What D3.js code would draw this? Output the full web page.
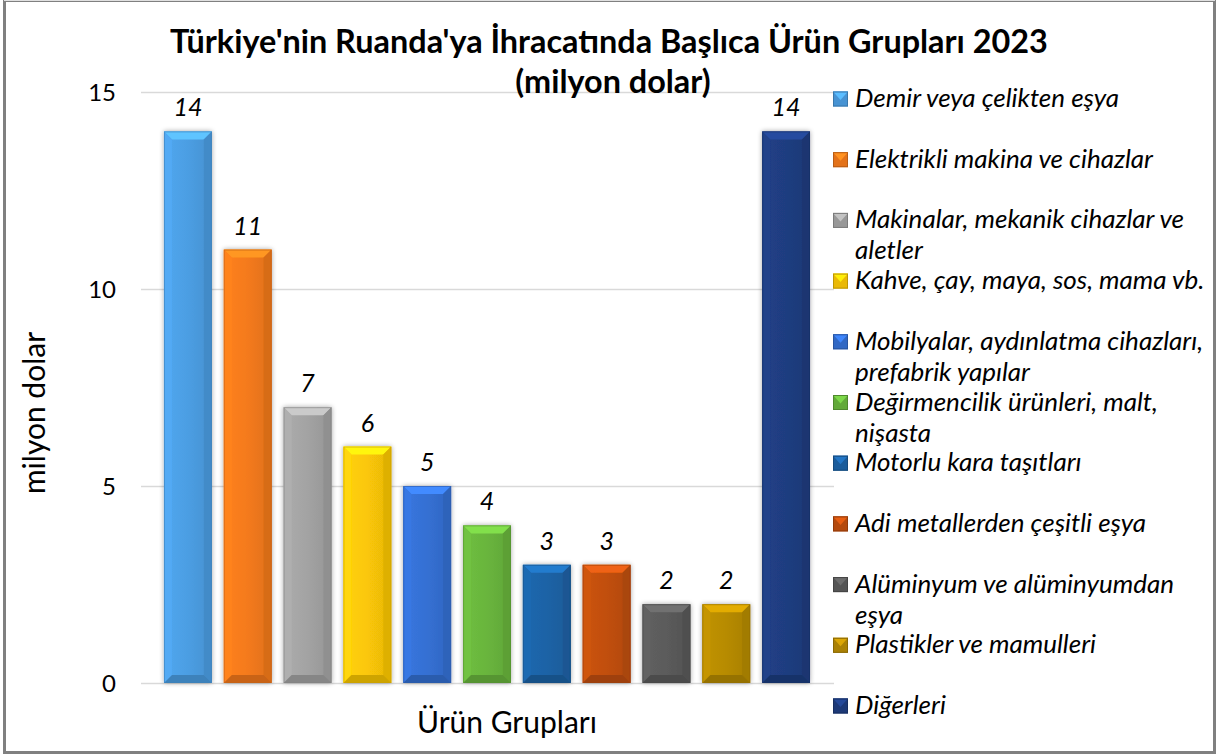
<!DOCTYPE html>
<html lang="tr">
<head>
<meta charset="utf-8">
<script src="https://d3js.org/d3.v7.min.js"></script>
<style>
  body { margin: 0; background: #fff; }
  svg { display: block; font-family: Lato, "Open Sans", sans-serif; }
</style>
</head>
<body>
<script>
// data
const categories = [
  "Demir veya çelikten eşya",
  "Elektrikli makina ve cihazlar",
  "Makinalar, mekanik cihazlar ve aletler",
  "Kahve, çay, maya, sos, mama vb.",
  "Mobilyalar, aydınlatma cihazları, prefabrik yapılar",
  "Değirmencilik ürünleri, malt, nişasta",
  "Motorlu kara taşıtları",
  "Adi metallerden çeşitli eşya",
  "Alüminyum ve alüminyumdan eşya",
  "Plastikler ve mamulleri",
  "Diğerleri"
];
const values = [14, 11, 7, 6, 5, 4, 3, 3, 2, 2, 14];
const legendLines = [
  ["Demir veya çelikten eşya"],
  ["Elektrikli makina ve cihazlar"],
  ["Makinalar, mekanik cihazlar ve", "aletler"],
  ["Kahve, çay, maya, sos, mama vb."],
  ["Mobilyalar, aydınlatma cihazları,", "prefabrik yapılar"],
  ["Değirmencilik ürünleri, malt,", "nişasta"],
  ["Motorlu kara taşıtları"],
  ["Adi metallerden çeşitli eşya"],
  ["Alüminyum ve alüminyumdan", "eşya"],
  ["Plastikler ve mamulleri"],
  ["Diğerleri"]
];
const colors = ["#4c9ee3", "#f47a1c", "#a3a3a3", "#fbc707", "#3570d3", "#69b53d",
                "#1d63a6", "#c14f0f", "#5b5b5b", "#b78b05", "#1f3d80"];
const yTicks = [0, 5, 10, 15];

const W = 1219, H = 756;
const svg = d3.select("body").append("svg").attr("width", W).attr("height", H);

const x = d3.scaleBand().domain(categories).range([158, 816]).paddingInner(0.2).paddingOuter(0.1);
const y = d3.scaleLinear().domain([0, 15]).range([683, 92]);

const defs = svg.append("defs");
const shadow = defs.append("filter").attr("id", "sh").attr("x", "-20%").attr("y", "-10%").attr("width", "140%").attr("height", "120%");
shadow.append("feGaussianBlur").attr("in", "SourceAlpha").attr("stdDeviation", 2.5);
shadow.append("feOffset").attr("dx", 0).attr("dy", 0).attr("result", "b");
shadow.append("feComponentTransfer").append("feFuncA").attr("type", "linear").attr("slope", 0.35);
const merge = shadow.append("feMerge");
merge.append("feMergeNode");
merge.append("feMergeNode").attr("in", "SourceGraphic");

colors.forEach((c, i) => {
  const g = defs.append("linearGradient").attr("id", "g" + i).attr("x1", 0).attr("x2", 1).attr("y1", 0).attr("y2", 0);
  g.append("stop").attr("offset", 0).attr("stop-color", d3.color(c).brighter(0.15));
  g.append("stop").attr("offset", 0.5).attr("stop-color", c);
  g.append("stop").attr("offset", 1).attr("stop-color", d3.color(c).darker(0.25));
});

// frame
svg.append("rect").attr("x", 4.5).attr("y", 0.5).attr("width", 1210).attr("height", 752)
  .attr("fill", "#fff").attr("stroke", "#808080").attr("stroke-width", 3);
svg.append("line").attr("x1", 4).attr("x2", 1215).attr("y1", 0.5).attr("y2", 0.5)
  .attr("stroke", "#e0e0e0").attr("stroke-width", 1);

// gridlines
svg.append("g").selectAll("line").data(yTicks).join("line")
  .attr("x1", 141).attr("x2", 834)
  .attr("y1", d => Math.round(y(d)) + 0.5).attr("y2", d => Math.round(y(d)) + 0.5)
  .attr("stroke", "#d9d9d9").attr("stroke-width", 1.5);

// y axis labels
const yAxis = svg.append("g").attr("transform", "translate(116,0)")
  .call(d3.axisLeft(y).tickValues(yTicks).tickSize(0).tickPadding(0));
yAxis.select(".domain").remove();
yAxis.selectAll("text").attr("font-family", "Lato, sans-serif").attr("font-size", 24)
  .attr("fill", "#000").attr("dy", "0.35em");

// bars with bevel
const bev = 8;
const bars = svg.append("g").selectAll("g").data(categories).join("g").attr("filter", "url(#sh)");
bars.each(function(d, i) {
  const g = d3.select(this);
  const x0 = x(d), w = x.bandwidth(), y0 = y(values[i]), y1 = y(0), h = y1 - y0;
  const c = d3.color(colors[i]);
  g.append("rect").attr("x", x0).attr("y", y0).attr("width", w).attr("height", h).attr("fill", `url(#g${i})`);
  const b = Math.min(bev, h / 2);
  g.append("polygon").attr("points", [[x0, y0], [x0 + w, y0], [x0 + w - b, y0 + b], [x0 + b, y0 + b]].join(" "))
    .attr("fill", c.brighter(0.6));
  g.append("polygon").attr("points", [[x0, y0], [x0 + b, y0 + b], [x0 + b, y1 - b], [x0, y1]].join(" "))
    .attr("fill", c.brighter(0.2));
  g.append("polygon").attr("points", [[x0 + w, y0], [x0 + w - b, y0 + b], [x0 + w - b, y1 - b], [x0 + w, y1]].join(" "))
    .attr("fill", c.darker(0.35));
  g.append("polygon").attr("points", [[x0, y1], [x0 + b, y1 - b], [x0 + w - b, y1 - b], [x0 + w, y1]].join(" "))
    .attr("fill", c.darker(0.55));
  g.append("rect").attr("x", x0 + 0.5).attr("y", y0 + 0.5).attr("width", w - 1).attr("height", h - 1)
    .attr("fill", "none").attr("stroke", c.darker(0.6)).attr("stroke-opacity", 0.6);
});

// value labels
svg.append("g").selectAll("text").data(categories).join("text")
  .attr("x", d => x(d) + x.bandwidth() / 2)
  .attr("y", (d, i) => y(values[i]) - 15)
  .attr("text-anchor", "middle").attr("font-size", 25).attr("font-style", "italic")
  .text((d, i) => values[i]);

// titles
const title = svg.append("text").attr("text-anchor", "middle").attr("font-weight", "bold").attr("font-size", 32.4);
title.append("tspan").attr("x", 609).attr("y", 53).text("Türkiye'nin Ruanda'ya İhracatında Başlıca Ürün Grupları 2023");
title.append("tspan").attr("x", 613).attr("y", 93).text("(milyon dolar)");

svg.append("text").attr("transform", "translate(45,413) rotate(-90)")
  .attr("text-anchor", "middle").attr("font-size", 30).text("milyon dolar");
svg.append("text").attr("x", 507).attr("y", 733)
  .attr("text-anchor", "middle").attr("font-size", 30).text("Ürün Grupları");

// legend
const legend = svg.append("g").selectAll("g").data(legendLines).join("g")
  .attr("transform", (d, i) => `translate(833,${99 + i * 60.7})`);
legend.each(function(lines, i) {
  const g = d3.select(this);
  const c = d3.color(colors[i]);
  const s = 15;
  g.append("rect").attr("x", 0).attr("y", -s / 2).attr("width", s).attr("height", s).attr("fill", c.darker(0.2));
  g.append("polygon").attr("points", [[0, -s / 2], [s, -s / 2], [s / 2, 1]].join(" ")).attr("fill", c.brighter(0.5));
  g.append("rect").attr("x", 0.5).attr("y", -s / 2 + 0.5).attr("width", s - 1).attr("height", s - 1)
    .attr("fill", "none").attr("stroke", c.darker(0.8)).attr("stroke-width", 1);
  const t = g.append("text").attr("font-size", 26).attr("font-style", "italic");
  lines.forEach((l, k) => t.append("tspan").attr("x", 22).attr("y", 8 + k * 31).text(l));
});
</script>
</body>
</html>
